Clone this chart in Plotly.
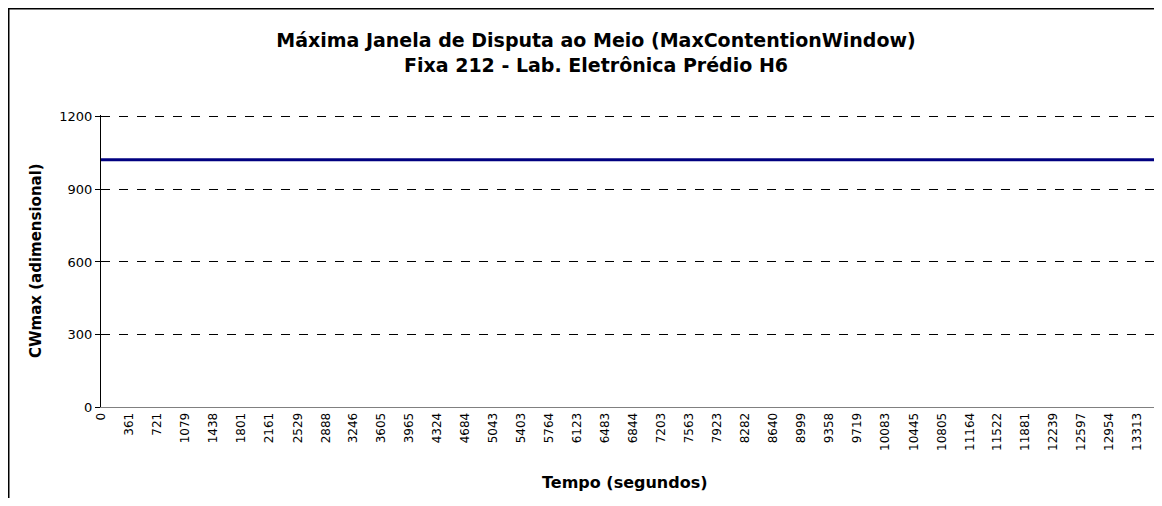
import plotly.graph_objects as go

# Data
tick_labels = [0, 361, 721, 1079, 1438, 1801, 2161, 2529, 2888, 3246, 3605, 3965,
               4324, 4684, 5043, 5403, 5764, 6123, 6483, 6844, 7203, 7563, 7923,
               8282, 8640, 8999, 9358, 9719, 10083, 10445, 10805, 11164, 11522,
               11881, 12239, 12597, 12954, 13313]
time_s = [0, 13533]          # first and last sample (seconds)
cwmax = [1023, 1023]         # constant CWmax value

y_ticks = [0, 300, 600, 900, 1200]
y_max = 1208

FONT = "'DejaVu Sans', Arial, sans-serif"

fig = go.Figure()
fig.add_trace(go.Scatter(
    x=time_s, y=cwmax, mode="lines",
    line=dict(color="#000080", width=3),
    showlegend=False, hoverinfo="skip",
))

# page has an 8px body margin: figure pixel = page pixel - 8
OFF = 8
W, H = 1154, 490
L, R, T, B = 93, 8, 107, 91
pw = W - L - R
ph = H - T - B

def fx(p):   # figure pixel -> paper x
    return (p - L) / pw

def fy(p):   # figure pixel -> paper y
    return (H - B - p) / ph

def px_x(p):  # page pixel -> paper x
    return fx(p - OFF)

def px_y(p):  # page pixel -> paper y
    return fy(p - OFF)

fig.update_layout(
    width=W, height=H,
    margin=dict(l=L, r=R, t=T, b=B),
    paper_bgcolor="white", plot_bgcolor="white",
    font=dict(family=FONT, color="black", size=12),
    title=dict(
        text="<b>Máxima Janela de Disputa ao Meio (MaxContentionWindow)<br>Fixa 212 - Lab. Eletrônica Prédio H6</b>",
        x=(596 - OFF) / W, xanchor="center", y=1 - (47 - OFF) / H, yanchor="middle",
        font=dict(family=FONT, size=19, color="black"),
    ),
    xaxis=dict(
        range=[0, time_s[-1]],
        tickmode="array", tickvals=tick_labels, ticktext=[str(v) for v in tick_labels],
        tickangle=-90, tickfont=dict(size=12),
        showgrid=False, zeroline=False,
        showline=True, linecolor="#808080", linewidth=1,
        ticks="",
    ),
    yaxis=dict(
        range=[0, y_max], tickmode="array", tickvals=y_ticks,
        tickfont=dict(size=13),
        showgrid=True, gridcolor="black", griddash="dash", gridwidth=1,
        zeroline=False, showline=True, linecolor="black", linewidth=1,
        ticks="outside", ticklen=5, tickcolor="black",
    ),
    annotations=[
        dict(text="<b>Tempo (segundos)</b>", xref="paper", yref="paper",
             x=px_x(625), y=px_y(482), xanchor="center", yanchor="middle",
             showarrow=False, font=dict(family=FONT, size=16, color="black")),
        dict(text="<b>CWmax (adimensional)</b>", xref="paper", yref="paper",
             x=px_x(36), y=px_y(261), xanchor="center", yanchor="middle",
             textangle=-90, showarrow=False,
             font=dict(family=FONT, size=15, color="black")),
    ],
    shapes=[
        dict(type="rect", xref="paper", yref="paper",
             x0=fx(0.5), x1=fx(W + 20), y0=fy(H + 20), y1=fy(0.5),
             line=dict(color="black", width=2), fillcolor="rgba(0,0,0,0)",
             layer="below"),
    ],
)

fig.write_html("out.html", config={"displayModeBar": False})
